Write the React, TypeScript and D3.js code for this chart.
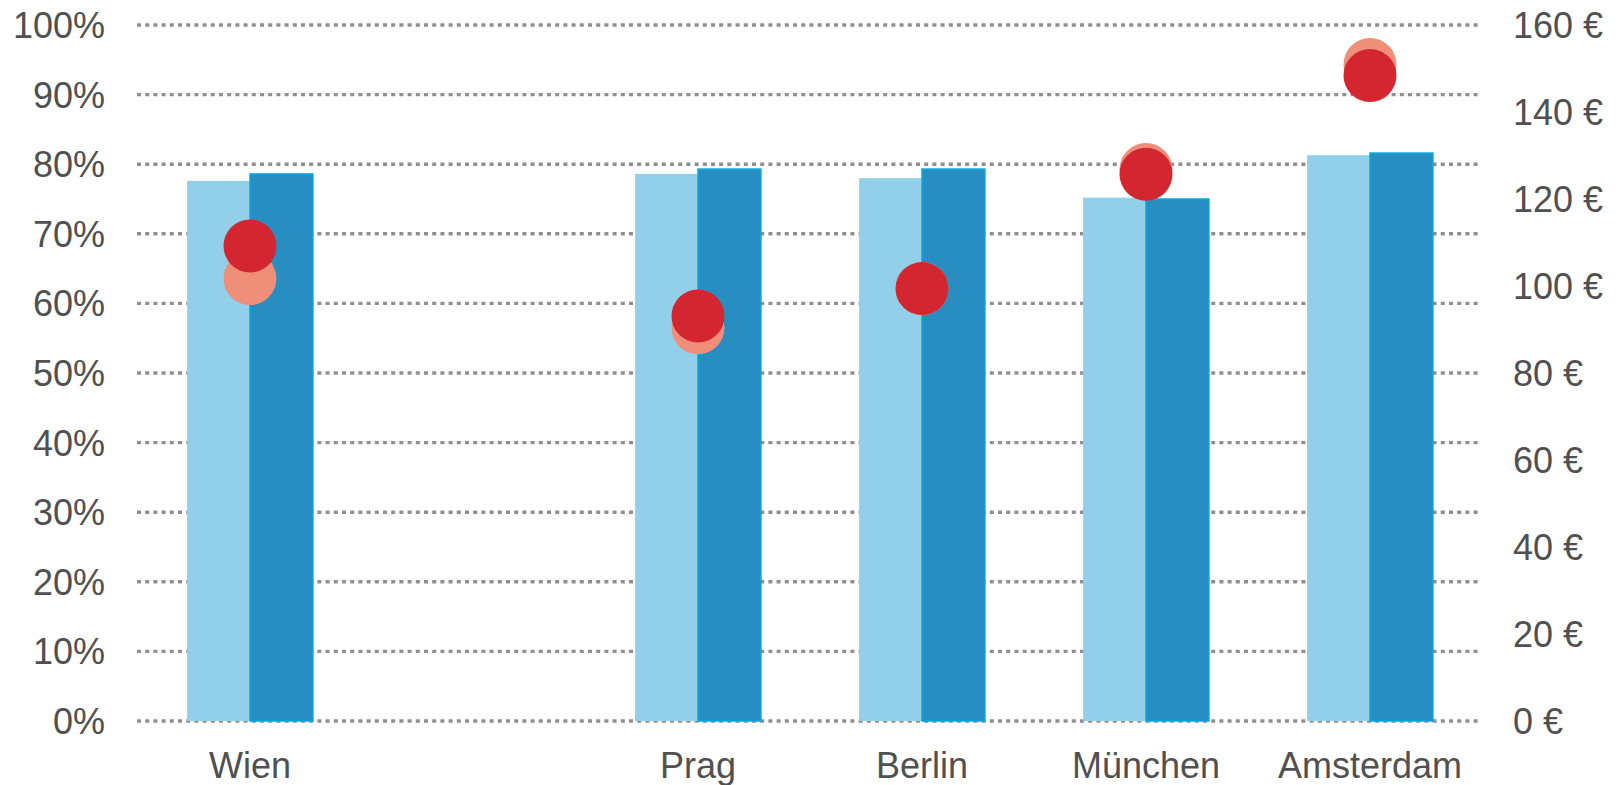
import React from "react";
import * as d3 from "d3";

const categories = ["Wien", "", "Prag", "Berlin", "München", "Amsterdam"];
const occupancyPrev = [77.6, null, 78.6, 78.0, 75.2, 81.3];
const occupancyCur = [78.6, null, 79.3, 79.3, 75.0, 81.6];
const ratePrev = [101.7, null, 90.4, 99.4, 126.8, 150.9];
const rateCur = [109.2, null, 93.1, 99.4, 125.7, 148.4];
const leftTicks = [0, 10, 20, 30, 40, 50, 60, 70, 80, 90, 100];
const rightTicks = [0, 20, 40, 60, 80, 100, 120, 140, 160];

const W = 1622;
const H = 785;
const FONT = "'Liberation Sans', Arial, sans-serif";
const TEXT = "#505050";

export default function App() {
  const x = d3.scaleBand<string>().domain(categories).range([138, 1482]);
  const sub = d3
    .scaleBand<string>()
    .domain(["prev", "cur"])
    .range([0, x.bandwidth()])
    .paddingInner(0)
    .paddingOuter(0.78);
  const yL = d3.scaleLinear().domain([0, 100]).range([721, 25]);
  const yR = d3.scaleLinear().domain([0, 160]).range([721, 25]);
  const gridX0 = 137;
  const gridX1 = 1480;

  return (
    <svg
      width={W}
      height={H}
      style={{ position: "absolute", left: 0, top: 0, background: "#fff" }}
      fontFamily={FONT}
    >
      {/* grid */}
      {leftTicks.map((t) => (
        <line
          key={"g" + t}
          x1={gridX0}
          x2={gridX1}
          y1={yL(t)}
          y2={yL(t)}
          stroke="#8f8f8f"
          strokeWidth={3.4}
          strokeDasharray="4 4.2"
        />
      ))}
      {/* bars */}
      {categories.map((c, i) => {
        const x0 = x(c)!;
        const els: any[] = [];
        const p = occupancyPrev[i];
        const q = occupancyCur[i];
        if (p != null) {
          els.push(
            <rect
              key={"p" + i}
              x={x0 + sub("prev")!}
              y={yL(p)}
              width={sub.bandwidth()}
              height={yL(0) - yL(p)}
              fill="#92d0ea"
            />
          );
        }
        if (q != null) {
          els.push(
            <rect
              key={"q" + i}
              x={x0 + sub("cur")!}
              y={yL(q)}
              width={sub.bandwidth()}
              height={yL(0) - yL(q)}
              fill="#288dc1"
              stroke="#08a6e0"
              strokeWidth={1.5}
            />
          );
        }
        return <g key={"b" + i}>{els}</g>;
      })}
      {/* dots */}
      {categories.map((c, i) => {
        const cx = x(c)! + x.bandwidth() / 2;
        const a = ratePrev[i];
        const b = rateCur[i];
        return (
          <g key={"d" + i}>
            {a != null && <circle cx={cx} cy={yR(a)} r={26.5} fill="#ef8e79" />}
            {b != null && <circle cx={cx} cy={yR(b)} r={26.5} fill="#d32630" />}
          </g>
        );
      })}
      {/* left axis */}
      {leftTicks.map((t) => (
        <text
          key={"l" + t}
          x={105}
          y={yL(t)}
          dy="0.36em"
          textAnchor="end"
          fontSize={36}
          fill={TEXT}
        >
          {t + "%"}
        </text>
      ))}
      {/* right axis */}
      {rightTicks.map((t) => (
        <text
          key={"r" + t}
          x={1513}
          y={yR(t)}
          dy="0.36em"
          textAnchor="start"
          fontSize={36}
          fill={TEXT}
        >
          {t + " €"}
        </text>
      ))}
      {/* x labels */}
      {categories.map((c) => (
        <text
          key={"x" + c}
          x={x(c)! + x.bandwidth() / 2}
          y={778}
          textAnchor="middle"
          fontSize={36}
          fill={TEXT}
        >
          {c}
        </text>
      ))}
    </svg>
  );
}
